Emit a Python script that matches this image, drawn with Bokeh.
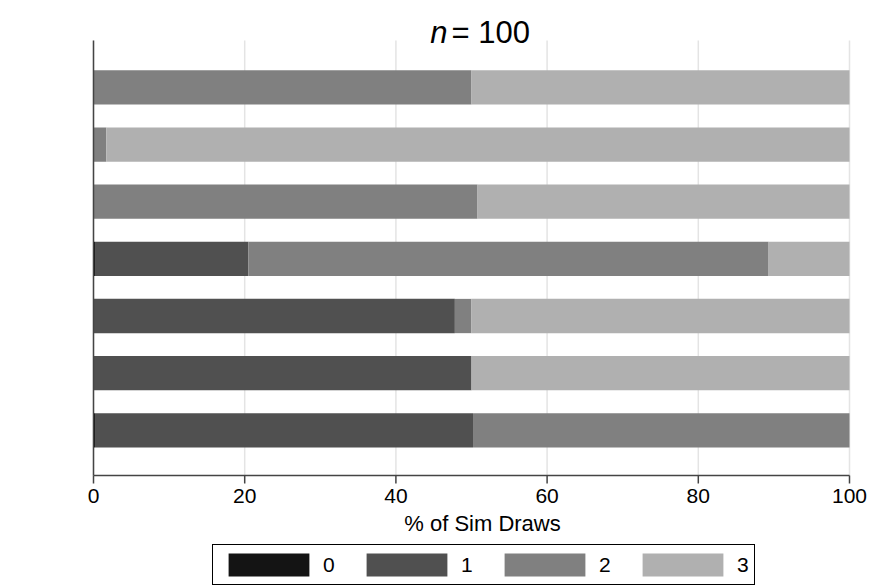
from bokeh.plotting import figure
from bokeh.models import (ColumnDataSource, Range1d, FixedTicker, Legend, LegendItem,
                          Label)
from bokeh.embed import file_html
from bokeh.resources import INLINE

# Share of simulation draws (%) per outcome, by scenario
scenarios = ["1", "2", "3", "3.1", "4", "4.1", "5"]
outcomes = ["0", "1", "2", "3"]
share_0 = [0.0, 0.0, 0.0, 0.2, 0.0, 0.0, 0.2]
share_1 = [0.0, 0.0, 0.0, 20.3, 47.8, 50.0, 50.0]
share_2 = [50.0, 1.7, 50.8, 68.8, 2.2, 0.0, 49.8]
share_3 = [50.0, 98.3, 49.2, 10.7, 50.0, 50.0, 0.0]
x_ticks = [0, 20, 40, 60, 80, 100]
x_tick_labels = [str(t) for t in x_ticks]

colors = ["#141414", "#505050", "#808080", "#b0b0b0"]
FONT = "Liberation Sans"
AXIS_COLOR = "#444444"

pos = list(range(len(scenarios)))
source = ColumnDataSource(dict(pos=pos, s0=share_0, s1=share_1, s2=share_2, s3=share_3))

# The data band spans 435 px tall and 756 px wide; the frame also holds the
# title above it, the x axis and key below it, and some room at both sides
# for the end tick labels.
y_lo, y_hi = -0.82, len(scenarios) - 0.21
S = 435 / (y_hi - y_lo)            # px per y unit
y_top = y_lo - 40 / S
y_bottom = y_hi + 112 / S
SX = 756 / 100                     # px per x unit
x_start = -9 / SX
x_end = 100 + 23 / SX

p = figure(width=872, height=587, frame_width=788, frame_height=587,
           output_backend="svg", toolbar_location=None, x_axis_location=None,
           x_range=Range1d(x_start, x_end), y_range=Range1d(y_bottom, y_top),
           min_border_left=84, min_border_right=0, min_border_top=0, min_border_bottom=0)
p.outline_line_color = None
p.background_fill_color = "white"
p.border_fill_color = "white"
p.grid.grid_line_color = None

n = len(x_ticks)
# vertical reference lines at the x ticks, limited to the data band
p.segment(x0=x_ticks, y0=[y_lo] * n, x1=x_ticks, y1=[y_hi] * n,
          line_color="#e4e4e4", line_width=1.5, level="underlay")

renderers = p.hbar_stack(["s0", "s1", "s2", "s3"], y="pos", height=0.6,
                         color=colors, source=source, line_width=0)

# x axis: baseline, outward ticks, tick labels and title
p.segment(x0=[x_ticks[0]], y0=[y_hi], x1=[x_ticks[-1]], y1=[y_hi],
          line_color=AXIS_COLOR, line_width=1.5)
p.segment(x0=x_ticks, y0=[y_hi] * n, x1=x_ticks, y1=[y_hi + 8 / S] * n,
          line_color=AXIS_COLOR, line_width=1.5)
p.text(x=x_ticks, y=[y_hi + 13 / S] * n, text=x_tick_labels,
       text_font={"value": FONT}, text_font_size="21px", text_color="black",
       text_align="center", text_baseline="top")
p.text(x=[50], y=[y_hi + 48 / S], text=["% of Sim Draws"], x_offset=11,
       text_font={"value": FONT}, text_font_size="22px", text_color="black",
       text_align="center", text_baseline="middle")

# y axis, drawn at x = 0
p.yaxis.fixed_location = 0
p.yaxis.ticker = FixedTicker(ticks=pos)
p.yaxis.major_label_overrides = {i: s for i, s in enumerate(scenarios)}
# leading no-break spaces lift the title to the middle of the data band
p.yaxis.axis_label = "\u00a0" * 11 + "Scenario"
p.yaxis.bounds = (y_lo, y_hi)
p.yaxis.axis_label_text_font = FONT
p.yaxis.axis_label_text_font_style = "normal"
p.yaxis.axis_label_text_font_size = "24px"
p.yaxis.axis_label_text_color = "black"
p.yaxis.major_label_text_font = FONT
p.yaxis.major_label_text_font_size = "21px"
p.yaxis.major_label_text_color = "black"
p.yaxis.axis_line_color = AXIS_COLOR
p.yaxis.axis_line_width = 1.5
p.yaxis.minor_tick_line_color = None
p.yaxis.major_tick_line_color = None
p.yaxis.major_tick_out = 0
p.yaxis.major_tick_in = 0
p.yaxis.major_label_standoff = 10
p.yaxis.axis_label_standoff = 12

# title: italic n followed by "= 100"
t_n = Label(x=50, y=y_lo, text="n", text_font=FONT, text_font_style="italic",
            text_font_size="31px", text_color="black", text_align="right",
            text_baseline="alphabetic", x_offset=-24, y_offset=8)
t_v = Label(x=50, y=y_lo, text="= 100", text_font=FONT, text_font_size="31px",
            text_color="black", text_align="left", text_baseline="alphabetic",
            x_offset=-20, y_offset=8)
p.add_layout(t_n)
p.add_layout(t_v)

# horizontal key along the bottom edge
legend = Legend(items=[LegendItem(label=o, renderers=[r]) for o, r in zip(outcomes, renderers)],
                orientation="horizontal", location=(128, 2))
legend.glyph_width = 101
legend.glyph_height = 29
legend.label_standoff = 4
legend.label_width = 12
legend.spacing = 21
legend.padding = 5
legend.margin = 0
legend.label_text_font = FONT
legend.label_text_font_size = "21px"
legend.label_text_color = "black"
legend.border_line_color = "black"
legend.border_line_width = 1
legend.border_line_alpha = 1
legend.background_fill_alpha = 1
p.add_layout(legend, "center")

open("out.html", "w").write(file_html(p, INLINE))
